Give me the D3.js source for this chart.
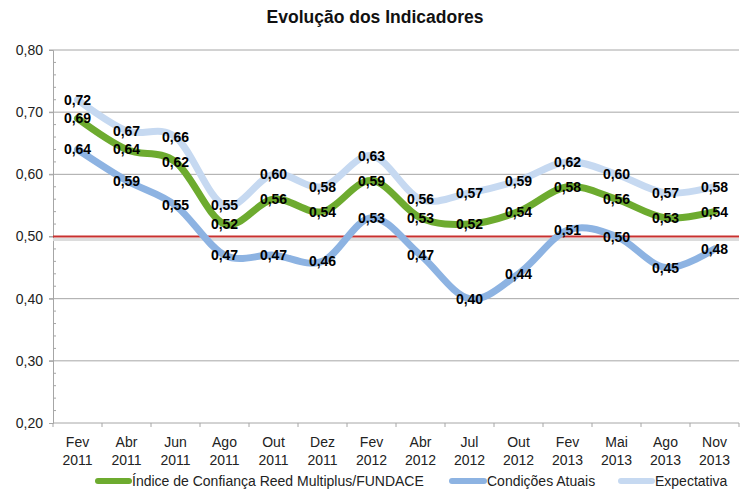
<!DOCTYPE html>
<html lang="pt">
<head>
<meta charset="UTF-8">
<title>Evolução dos Indicadores</title>
<script src="https://d3js.org/d3.v7.min.js"></script>
<style>
    body { margin: 0; background: #fff; }
    svg text { font-family: "Liberation Sans", Arial, sans-serif; }
</style>
</head>
<body>
<div id="chart"></div>
<script>
    // categorias (mes / ano)
    const months = ["Fev", "Abr", "Jun", "Ago", "Out", "Dez", "Fev", "Abr", "Jul", "Out", "Fev", "Mai", "Ago", "Nov"];
    const years = ["2011", "2011", "2011", "2011", "2011", "2011", "2012", "2012", "2012", "2012", "2013", "2013", "2013", "2013"];

    // series
    const indice = [0.69, 0.64, 0.62, 0.52, 0.56, 0.54, 0.59, 0.53, 0.52, 0.54, 0.58, 0.56, 0.53, 0.54];
    const condicoes = [0.64, 0.59, 0.55, 0.47, 0.47, 0.46, 0.53, 0.47, 0.40, 0.44, 0.51, 0.50, 0.45, 0.48];
    const expectativa = [0.72, 0.67, 0.66, 0.55, 0.60, 0.58, 0.63, 0.56, 0.57, 0.59, 0.62, 0.60, 0.57, 0.58];

    const yTicks = [0.20, 0.30, 0.40, 0.50, 0.60, 0.70, 0.80];
    const refLine = 0.50;

    const width = 750, height = 503;
    const margin = { top: 50, right: 11, bottom: 80, left: 53 };

    const svg = d3.select("#chart").append("svg")
        .attr("width", width)
        .attr("height", height);

    const cats = months.map((m, i) => i);

    const x = d3.scaleBand()
        .domain(cats)
        .range([margin.left, width - margin.right]);

    const y = d3.scaleLinear()
        .domain([0.2, 0.8])
        .range([height - margin.bottom, margin.top]);

    const fmt = v => d3.format(".2f")(v).replace(".", ",");

    // title
    svg.append("text")
        .attr("x", 375)
        .attr("y", 23)
        .attr("text-anchor", "middle")
        .attr("font-size", 17.5)
        .attr("font-weight", "bold")
        .attr("fill", "#111")
        .text("Evolução dos Indicadores");

    // gridlines
    svg.append("g")
        .selectAll("line")
        .data(yTicks.filter(d => d > 0.2))
        .join("line")
        .attr("x1", margin.left - 4)
        .attr("x2", width - margin.right)
        .attr("y1", d => y(d))
        .attr("y2", d => y(d))
        .attr("stroke", "#a6a6a6")
        .attr("stroke-width", 1);

    // y axis
    const yAxis = svg.append("g")
        .attr("transform", `translate(${margin.left},0)`)
        .call(d3.axisLeft(y).tickValues(yTicks).tickSize(4).tickFormat(fmt));
    yAxis.select(".domain").attr("stroke", "#a6a6a6");
    yAxis.selectAll(".tick line").attr("stroke", "#a6a6a6");
    yAxis.selectAll(".tick text")
        .attr("font-size", 14)
        .attr("fill", "#222")
        .attr("x", -10);

    // minor ticks inside
    svg.append("g")
        .selectAll("line")
        .data(d3.range(0.22, 0.8, 0.02).filter(d => Math.abs(d * 10 - Math.round(d * 10)) > 0.01))
        .join("line")
        .attr("x1", margin.left)
        .attr("x2", margin.left + 3)
        .attr("y1", d => y(d))
        .attr("y2", d => y(d))
        .attr("stroke", "#a6a6a6");

    // x axis
    const xAxis = svg.append("g")
        .attr("transform", `translate(0,${y(0.2)})`);
    xAxis.append("line")
        .attr("x1", margin.left)
        .attr("x2", width - margin.right)
        .attr("stroke", "#a6a6a6");
    xAxis.selectAll(".xt")
        .data(cats.concat([cats.length]))
        .join("line")
        .attr("class", "xt")
        .attr("x1", d => d < cats.length ? x(d) : x(cats.length - 1) + x.bandwidth())
        .attr("x2", d => d < cats.length ? x(d) : x(cats.length - 1) + x.bandwidth())
        .attr("y1", 0)
        .attr("y2", 4)
        .attr("stroke", "#a6a6a6");
    const xl = xAxis.selectAll(".xl")
        .data(cats)
        .join("text")
        .attr("class", "xl")
        .attr("text-anchor", "middle")
        .attr("font-size", 14)
        .attr("fill", "#222");
    xl.append("tspan")
        .attr("x", d => x(d) + x.bandwidth() / 2)
        .attr("y", 24)
        .text(d => months[d]);
    xl.append("tspan")
        .attr("x", d => x(d) + x.bandwidth() / 2)
        .attr("y", 42)
        .text(d => years[d]);

    // red reference line with shadow
    svg.append("line")
        .attr("x1", margin.left)
        .attr("x2", width - margin.right)
        .attr("y1", y(refLine) + 3)
        .attr("y2", y(refLine) + 3)
        .attr("stroke", "#dcdcdc")
        .attr("stroke-width", 3);
    svg.append("line")
        .attr("x1", margin.left)
        .attr("x2", width - margin.right)
        .attr("y1", y(refLine))
        .attr("y2", y(refLine))
        .attr("stroke", "#c8312f")
        .attr("stroke-width", 2);

    const series = [
        { name: "Índice de Confiança Reed Multiplus/FUNDACE", values: indice, color: "#6dab2f" },
        { name: "Condições Atuais", values: condicoes, color: "#8db3e2" },
        { name: "Expectativa", values: expectativa, color: "#c6d9f1" }
    ];

    const line = d3.line()
        .x((d, i) => x(i) + x.bandwidth() / 2)
        .y(d => y(d))
        .curve(d3.curveCardinal.tension(0));

    // draw light lines first so the green stays on top
    [series[2], series[1], series[0]].forEach(s => {
        svg.append("path")
            .datum(s.values)
            .attr("d", line)
            .attr("fill", "none")
            .attr("stroke", s.color)
            .attr("stroke-width", 7)
            .attr("stroke-linecap", "round");
    });

    // data labels
    series.forEach(s => {
        svg.append("g")
            .selectAll("text")
            .data(s.values)
            .join("text")
            .attr("x", (d, i) => x(i) + x.bandwidth() / 2)
            .attr("y", d => y(d) + 5)
            .attr("text-anchor", "middle")
            .attr("font-size", 14)
            .attr("font-weight", "bold")
            .attr("fill", "#000")
            .text(fmt);
    });

    // legend
    const legendItems = [
        { x: 95, tx: 132 },
        { x: 449, tx: 487 },
        { x: 618, tx: 655 }
    ];
    const legend = svg.append("g").attr("transform", "translate(0,481)");
    series.forEach((s, i) => {
        legend.append("line")
            .attr("x1", legendItems[i].x + 3)
            .attr("x2", legendItems[i].tx - 3)
            .attr("stroke", s.color)
            .attr("stroke-width", 6)
            .attr("stroke-linecap", "round");
        legend.append("text")
            .attr("x", legendItems[i].tx)
            .attr("y", 5)
            .attr("font-size", 14)
            .attr("fill", "#222")
            .text(s.name);
    });
</script>
</body>
</html>
